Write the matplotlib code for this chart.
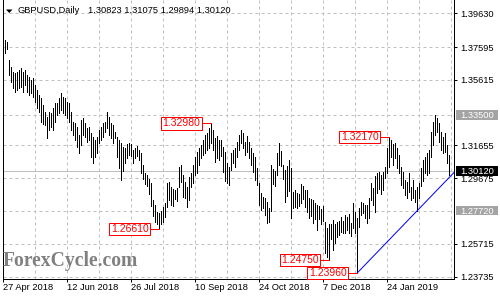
import matplotlib
matplotlib.use("Agg")
import matplotlib.pyplot as plt
from matplotlib.patches import Rectangle, Polygon
from matplotlib.transforms import blended_transform_factory, IdentityTransform

# ---------------- data ----------------
highs = [
    1.3942, 1.3802, 1.3790, 1.3681, 1.3641, 1.3611, 1.3601, 1.3611, 1.3621, 1.3631,
    1.3611, 1.3621, 1.3591, 1.3581, 1.3561, 1.3571, 1.3530, 1.3500, 1.3470, 1.3450,
    1.3410, 1.3369, 1.3339, 1.3369, 1.3359, 1.3390, 1.3420, 1.3420, 1.3450, 1.3480,
    1.3460, 1.3450, 1.3430, 1.3420, 1.3369, 1.3309, 1.3299, 1.3279, 1.3229, 1.3319,
    1.3329, 1.3299, 1.3269, 1.3279, 1.3239, 1.3219, 1.3199, 1.3219, 1.3259, 1.3279,
    1.3299, 1.3309, 1.3365, 1.3339, 1.3299, 1.3289, 1.3249, 1.3219, 1.3198, 1.3178,
    1.3158, 1.3150, 1.3175, 1.3180, 1.3175, 1.3140, 1.3150, 1.3165, 1.3140, 1.3120,
    1.3048, 1.3000, 1.2985, 1.2960, 1.2939, 1.2836, 1.2806, 1.2766, 1.2756, 1.2770,
    1.2796, 1.2816, 1.2939, 1.2947, 1.2917, 1.2900, 1.2895, 1.2910, 1.3037, 1.3048,
    1.2987, 1.2947, 1.2917, 1.2977, 1.2997, 1.3048, 1.3098, 1.3128, 1.3150, 1.3170,
    1.3200, 1.3228, 1.3238, 1.3269, 1.3298, 1.3260, 1.3210, 1.3225, 1.3198, 1.3200,
    1.3158, 1.3128, 1.3058, 1.3038, 1.3118, 1.3138, 1.3148, 1.3188, 1.3228, 1.3259,
    1.3239, 1.3188, 1.3220, 1.3188, 1.3148, 1.3118, 1.3098, 1.3027, 1.2937, 1.2877,
    1.2857, 1.2847, 1.2826, 1.2790, 1.3045, 1.3025, 1.3010, 1.3120, 1.3178, 1.3130,
    1.3050, 1.3017, 1.3040, 1.3075, 1.3027, 1.2886, 1.2897, 1.2880, 1.2870, 1.2935,
    1.2920, 1.2897, 1.2897, 1.2847, 1.2840, 1.2837, 1.2820, 1.2806, 1.2800, 1.2780,
    1.2800, 1.2705, 1.2665, 1.2689, 1.2689, 1.2716, 1.2689, 1.2705, 1.2710, 1.2736,
    1.2710, 1.2745, 1.2736, 1.2750, 1.2700, 1.2816, 1.2766, 1.2726, 1.2786, 1.2826,
    1.2816, 1.2806, 1.2806, 1.2847, 1.2937, 1.2907, 1.2980, 1.2997, 1.3007, 1.2985,
    1.3007, 1.3037, 1.3148, 1.3217, 1.3198, 1.3175, 1.3178, 1.3148, 1.3108, 1.3037,
    1.3007, 1.2957, 1.2947, 1.2997, 1.2917, 1.2957, 1.2897, 1.2917, 1.2937, 1.3030,
    1.3078, 1.3098, 1.3118, 1.3138, 1.3248, 1.3309, 1.3350, 1.3329, 1.3299, 1.3248,
    1.3218, 1.3239, 1.3168, 1.31075,
]
lows = [
    1.3722, 1.3722, 1.3748, 1.3591, 1.3550, 1.3510, 1.3490, 1.3500, 1.3510, 1.3520,
    1.3490, 1.3530, 1.3490, 1.3470, 1.3480, 1.3460, 1.3430, 1.3390, 1.3369, 1.3305,
    1.3295, 1.3289, 1.3209, 1.3259, 1.3279, 1.3259, 1.3309, 1.3349, 1.3359, 1.3379,
    1.3359, 1.3349, 1.3330, 1.3309, 1.3259, 1.3229, 1.3198, 1.3158, 1.3118, 1.3168,
    1.3229, 1.3219, 1.3188, 1.3199, 1.3098, 1.3058, 1.3098, 1.3118, 1.3178, 1.3198,
    1.3219, 1.3249, 1.3269, 1.3229, 1.3209, 1.3178, 1.3209, 1.3098, 1.3027, 1.2957,
    1.3010, 1.3060, 1.3090, 1.3110, 1.3100, 1.3060, 1.3090, 1.3100, 1.3080, 1.3000,
    1.2960, 1.2930, 1.2920, 1.2870, 1.2800, 1.2740, 1.2706, 1.2690, 1.2661, 1.2690,
    1.2706, 1.2736, 1.2796, 1.2836, 1.2806, 1.2800, 1.2840, 1.2830, 1.2917, 1.2947,
    1.2857, 1.2846, 1.2796, 1.2836, 1.2917, 1.2937, 1.2987, 1.2997, 1.3050, 1.3090,
    1.3110, 1.3120, 1.3140, 1.3150, 1.3180, 1.3140, 1.3067, 1.3090, 1.3080, 1.3100,
    1.3007, 1.2950, 1.2937, 1.2927, 1.3017, 1.3058, 1.3037, 1.3098, 1.3138, 1.3178,
    1.3148, 1.3108, 1.3128, 1.3088, 1.3048, 1.3007, 1.2957, 1.2927, 1.2806, 1.2776,
    1.2786, 1.2746, 1.2696, 1.2705, 1.2770, 1.2930, 1.2920, 1.2990, 1.3050, 1.3040,
    1.2960, 1.2826, 1.2860, 1.2890, 1.2726, 1.2790, 1.2796, 1.2790, 1.2800, 1.2820,
    1.2840, 1.2796, 1.2766, 1.2726, 1.2740, 1.2700, 1.2720, 1.2655, 1.2720, 1.2690,
    1.2710, 1.2515, 1.2494, 1.2475, 1.2598, 1.2535, 1.2575, 1.2615, 1.2625, 1.2645,
    1.2635, 1.2635, 1.2655, 1.2640, 1.2620, 1.2665, 1.2635, 1.2396, 1.2675, 1.2746,
    1.2756, 1.2726, 1.2700, 1.2726, 1.2836, 1.2806, 1.2766, 1.2880, 1.2900, 1.2870,
    1.2897, 1.2967, 1.2997, 1.3037, 1.3098, 1.3045, 1.3088, 1.3027, 1.2997, 1.2927,
    1.2907, 1.2866, 1.2846, 1.2887, 1.2836, 1.2850, 1.2826, 1.2772, 1.2850, 1.2920,
    1.2950, 1.2997, 1.2987, 1.2997, 1.3098, 1.3168, 1.3228, 1.3248, 1.3188, 1.3138,
    1.3118, 1.3128, 1.3058, 1.29894,
]
assert len(highs) == len(lows) == 224
bar_index = list(range(len(highs)))

date_labels = ["27 Apr 2018", "12 Jun 2018", "26 Jul 2018", "10 Sep 2018",
               "24 Oct 2018", "7 Dec 2018", "24 Jan 2019"]
date_label_index = [0, 32, 64, 96, 128, 160, 192]
grid_index = list(range(0, 225, 16))

price_ticks = [1.39630, 1.37595, 1.35615, 1.31655, 1.29675, 1.25715, 1.23735]
level_lines = [1.33500, 1.27720]
last_price = 1.30120
title_symbol = "GBPUSD,Daily"
title_ohlc = ["1.30823", "1.31075", "1.29894", "1.30120"]

# swing labels: (bar index, price)
swing_points = [(104, 1.32980), (78, 1.26610), (163, 1.24750), (177, 1.23960), (193, 1.32170)]
# trend line anchors: (bar index, price)
trend_a = (177, 1.23960)
trend_b = (207, 1.27720)

# ---------------- figure ----------------
W, H = 500, 300
fig = plt.figure(figsize=(5, 3), dpi=100, facecolor="white")
ax_left, ax_right, ax_bottom_px = 2.5, 454.0, 278.5
ax = fig.add_axes([ax_left / W, (H - ax_bottom_px) / H, (ax_right - ax_left) / W, ax_bottom_px / H])
ax.set_facecolor("white")

FONT = "Liberation Sans"
fs = 6.7
grid_c = "#c0c0c0"
lw = 0.72

ax.set_xlim(-0.38, 225.37)
ax.set_ylim(1.23625, 1.40433)

# grid
for gi in grid_index:
    ax.axvline(gi, color=grid_c, lw=lw, ls=(0, (3, 3)), zorder=1)
for p in price_ticks + level_lines:
    ax.axhline(p, color=grid_c, lw=lw, ls=(0, (3, 3)), zorder=1)
ax.axhline(last_price, color=grid_c, lw=lw, zorder=1)

# bars (high-low)
ax.vlines(bar_index, lows, highs, colors="black", lw=0.72, zorder=3, antialiased=False)

# trend line
slope = (trend_b[1] - trend_a[1]) / (trend_b[0] - trend_a[0])
x_end = 226.0
ax.plot([trend_a[0], x_end], [trend_a[1], trend_a[1] + slope * (x_end - trend_a[0])],
        color="#0000ff", lw=lw, zorder=4, clip_on=True)

# swing labels
for bi, p in swing_points:
    ax.plot([bi - 5.0, bi], [p, p], color="red", lw=lw, zorder=5)
    ax.annotate(f"{p:.5f}", xy=(bi, p), xytext=(-10.8, 0), textcoords="offset pixels",
                ha="right", va="center", color="red", fontsize=7.5, family=FONT, zorder=6,
                bbox=dict(boxstyle="square,pad=0.12", fc="white", ec="red", lw=lw))

# axes styling
for s in ["left", "bottom", "right"]:
    ax.spines[s].set_color("black")
    ax.spines[s].set_linewidth(lw)
ax.spines["top"].set_visible(False)

ax.yaxis.tick_right()
ax.set_yticks(price_ticks)
ax.set_yticklabels([f"{p:.5f}" for p in price_ticks])
ax.tick_params(axis="y", length=2.2, width=lw, pad=2.5, labelsize=fs, colors="black")
ax.set_xticks(date_label_index)
ax.set_xticklabels(date_labels)
ax.tick_params(axis="x", length=2.2, width=lw, pad=1.2, labelsize=fs, colors="black")
for lab in ax.get_xticklabels() + ax.get_yticklabels():
    lab.set_family(FONT)
for lab in ax.get_xticklabels():
    lab.set_ha("left")

# right-side boxed labels
fig.canvas.draw()
ppu = (ax.transData.transform((0, 1.3))[1] - ax.transData.transform((0, 1.2))[1]) / 0.1
bt = blended_transform_factory(IdentityTransform(), ax.transData)
for p, fc in [(level_lines[0], "#a4a4a4"), (last_price, "black"), (level_lines[1], "#a4a4a4")]:
    r = Rectangle((455.5, p - 4.8 / ppu), 42, 9.6 / ppu, transform=bt, fc=fc, ec="none", zorder=10)
    fig.add_artist(r)
    fig.add_artist(matplotlib.text.Text(460.5, p, f"{p:.5f}", transform=bt, color="white",
                                        va="center_baseline", ha="left", fontsize=fs, family=FONT, zorder=11))

# title
tri = Polygon([[6 / W, 1 - 9.5 / H], [12.5 / W, 1 - 9.5 / H], [9.25 / W, 1 - 13 / H]],
              closed=True, transform=fig.transFigure, fc="black", ec="none")
fig.add_artist(tri)
fig.text(18 / W, 1 - 10.8 / H, title_symbol, fontsize=fs, family=FONT, va="center", ha="left")
fig.text(88 / W, 1 - 10.8 / H, " ".join(title_ohlc), fontsize=fs, family=FONT, va="center", ha="left")

# watermark
fig.text(2.5 / W, 1 - 261 / H, "ForexCycle.com", fontsize=14.1, family="Liberation Serif",
         weight="bold", color="#808080", va="center", ha="left")

fig.savefig("out.png", dpi=100, facecolor="white")
